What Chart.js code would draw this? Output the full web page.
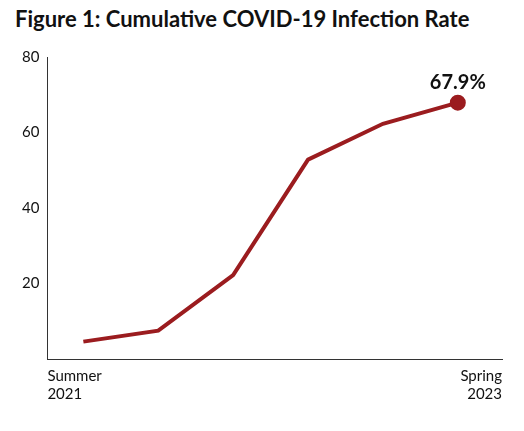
<!DOCTYPE html>
<html><head><meta charset="utf-8">
<script src="https://cdn.jsdelivr.net/npm/chart.js@4"></script>
<style>body{margin:0;background:#fff}#w{position:relative;width:524px;height:431px}
h1{position:absolute;left:15px;top:5px;margin:0;font:bold 22px Lato,"Open Sans",sans-serif;color:#111}
#c{position:absolute;left:0;top:40px}</style></head><body>
<div id="w"><h1>Figure 1: Cumulative COVID-19 Infection Rate</h1><canvas id="c" width="524" height="391"></canvas></div>
<script>
const categories=["Summer 2021","","","","","Spring 2023"];
const values=[4.6,7.5,22.2,52.8,62.3,67.9];
const yTicks=[20,40,60,80];
const endLabels=[["Summer","2021"],["Spring","2023"]];
const color="#9b1c1f";
const pts=values.map((v,i)=>({x:i,y:v}));
const lbl={id:'lbl',afterDatasetsDraw(ch){const m=ch.getDatasetMeta(0).data.at(-1);const c=ch.ctx;c.save();c.font='bold 20px Lato,sans-serif';c.fillStyle='#111';c.textAlign='center';c.textBaseline='bottom';c.fillText(values.at(-1).toFixed(1)+'%',m.x,m.y-10);c.restore();}};
new Chart(document.getElementById('c'),{type:'line',data:{datasets:[{data:pts,borderColor:color,backgroundColor:color,borderWidth:4,pointRadius:values.map((v,i)=>i===values.length-1?6:0),pointHoverRadius:0,tension:0}]},
plugins:[lbl],
options:{responsive:false,animation:false,layout:{padding:{top:10,right:22,left:14,bottom:20}},plugins:{legend:{display:false},tooltip:{enabled:false}},
scales:{x:{type:'linear',min:-0.48,max:5.59,grid:{display:false,drawTicks:false},border:{color:'#333',width:1},
afterBuildTicks(a){a.ticks=[{value:a.min},{value:a.max}];},
ticks:{align:'inner',padding:8,color:'#111',font:{size:15,family:'Lato,sans-serif'},callback:(v,i)=>endLabels[i]}},
y:{min:0,max:80,grid:{display:false,drawTicks:false},border:{color:'#333',width:1},
afterBuildTicks(a){a.ticks=yTicks.map(v=>({value:v}));},
ticks:{padding:8,color:'#111',font:{size:15,family:'Lato,sans-serif'}}}}}});
</script></body></html>
